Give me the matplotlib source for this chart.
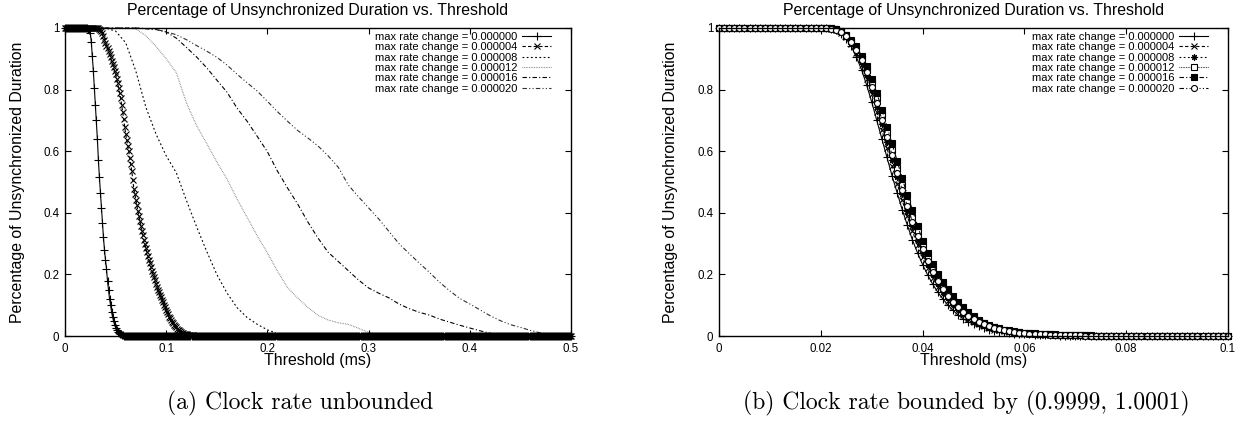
import numpy as np
import matplotlib
matplotlib.use("Agg")
import matplotlib.pyplot as plt

# ---------------------------------------------------------------- data
rate_labels = [
    "max rate change = 0.000000",
    "max rate change = 0.000004",
    "max rate change = 0.000008",
    "max rate change = 0.000012",
    "max rate change = 0.000016",
    "max rate change = 0.000020",
]

# Panel (a): clock rate unbounded.  Two series sampled every 0.001 ms,
# the other four every 0.01 ms.  Each list starts at the given threshold;
# before it the fraction is 1, after its end it is 0.
a_fine_step = 0.001
a_coarse_step = 0.01
a_x_max = 0.5

a_r00_start = 0.020
a_r00 = [1.0, 1.0, 0.999, 0.997, 0.993, 0.985, 0.954, 0.909, 0.861, 0.806,
         0.751, 0.700, 0.639, 0.572, 0.515, 0.465, 0.415, 0.367, 0.320, 0.280,
         0.247, 0.218, 0.178, 0.148, 0.121, 0.101, 0.078, 0.062, 0.048, 0.036,
         0.027, 0.020, 0.014, 0.010, 0.007, 0.005, 0.003, 0.002, 0.001, 0.0005]

a_r04_start = 0.033
a_r04 = [1.0, 0.998, 0.995, 0.990, 0.983, 0.973, 0.962, 0.952, 0.943, 0.934,
         0.925, 0.916, 0.905, 0.894, 0.883, 0.873, 0.862, 0.851, 0.836, 0.822,
         0.806, 0.789, 0.772, 0.751, 0.728, 0.704, 0.680, 0.656, 0.636, 0.618,
         0.600, 0.578, 0.558, 0.536, 0.506, 0.478, 0.462, 0.443, 0.425, 0.406,
         0.390, 0.373, 0.357, 0.341, 0.327, 0.312, 0.298, 0.285, 0.272, 0.259,
         0.248, 0.236, 0.224, 0.212, 0.201, 0.191, 0.181, 0.170, 0.160, 0.150,
         0.142, 0.134, 0.126, 0.118, 0.110, 0.102, 0.094, 0.086, 0.078, 0.070,
         0.063, 0.057, 0.051, 0.046, 0.041, 0.036, 0.032, 0.028, 0.024, 0.021,
         0.018, 0.015, 0.013, 0.011, 0.009, 0.008, 0.007, 0.006, 0.005, 0.004,
         0.003, 0.003, 0.002, 0.002, 0.001, 0.001, 0.001]

a_r08_start = 0.04
a_r08 = [1.0, 0.99, 0.952, 0.86, 0.742, 0.655, 0.585, 0.53, 0.44, 0.355,
         0.275, 0.20, 0.14, 0.092, 0.06, 0.038, 0.02, 0.008]

a_r12_start = 0.06
a_r12 = [1.0, 0.997, 0.975, 0.94, 0.90, 0.855, 0.757, 0.683, 0.625, 0.565,
         0.51, 0.445, 0.385, 0.325, 0.27, 0.21, 0.157, 0.123, 0.093, 0.067,
         0.052, 0.043, 0.038, 0.025, 0.012, 0.003]

a_r16_start = 0.07
a_r16 = [1.0, 0.998, 0.995, 0.987, 0.967, 0.937, 0.906, 0.871, 0.831, 0.792,
         0.74, 0.697, 0.648, 0.598, 0.535, 0.48, 0.428, 0.37, 0.318, 0.272,
         0.242, 0.212, 0.182, 0.156, 0.139, 0.124, 0.104, 0.089, 0.077, 0.068,
         0.055, 0.045, 0.035, 0.026, 0.017, 0.009, 0.003]

a_r20_start = 0.07
a_r20 = [1.0, 0.998, 0.995, 0.988, 0.978, 0.962, 0.943, 0.925, 0.905, 0.88,
         0.85, 0.822, 0.795, 0.762, 0.728, 0.697, 0.667, 0.643, 0.617, 0.585,
         0.548, 0.49, 0.452, 0.416, 0.38, 0.34, 0.30, 0.268, 0.237, 0.207,
         0.175, 0.147, 0.122, 0.104, 0.085, 0.066, 0.05, 0.037, 0.028, 0.018,
         0.01, 0.004, 0.001]

# Panel (b): clock rate bounded, all series sampled every 0.001 ms.
b_step = 0.001
b_x_max = 0.1
b_start = 0.020

b_r00 = [1.0, 0.999, 0.997, 0.992, 0.982, 0.965, 0.94, 0.905, 0.865, 0.815,
         0.76, 0.70, 0.64, 0.58, 0.52, 0.465, 0.41, 0.36, 0.312, 0.27,
         0.232, 0.198, 0.168, 0.142, 0.12, 0.10, 0.083, 0.068, 0.056, 0.046,
         0.038, 0.031, 0.025, 0.021, 0.017, 0.014, 0.012, 0.010, 0.008, 0.007,
         0.006, 0.005, 0.004, 0.003, 0.003, 0.002, 0.002, 0.001, 0.001, 0.001]

b_r04 = [1.0, 1.0, 0.998, 0.994, 0.985, 0.97, 0.948, 0.918, 0.88, 0.835,
         0.785, 0.728, 0.67, 0.61, 0.552, 0.495, 0.44, 0.388, 0.34, 0.295,
         0.255, 0.22, 0.188, 0.16, 0.136, 0.115, 0.097, 0.081, 0.067, 0.056,
         0.046, 0.038, 0.031, 0.026, 0.021, 0.018, 0.015, 0.012, 0.010, 0.009,
         0.007, 0.006, 0.005, 0.004, 0.004, 0.003, 0.003, 0.002, 0.002, 0.001,
         0.001, 0.001]

b_r08 = [1.0, 1.0, 0.998, 0.995, 0.987, 0.973, 0.952, 0.925, 0.89, 0.848,
         0.80, 0.745, 0.688, 0.63, 0.572, 0.515, 0.46, 0.406, 0.357, 0.31,
         0.268, 0.231, 0.198, 0.169, 0.144, 0.122, 0.103, 0.087, 0.073, 0.061,
         0.051, 0.042, 0.035, 0.029, 0.024, 0.020, 0.017, 0.014, 0.012, 0.010,
         0.009, 0.007, 0.006, 0.005, 0.005, 0.004, 0.003, 0.003, 0.002, 0.002,
         0.002, 0.001, 0.001, 0.001]

b_r12 = [1.0, 1.0, 0.999, 0.996, 0.989, 0.977, 0.958, 0.934, 0.903, 0.865,
         0.822, 0.773, 0.718, 0.66, 0.603, 0.545, 0.49, 0.436, 0.385, 0.337,
         0.293, 0.254, 0.219, 0.188, 0.161, 0.137, 0.117, 0.099, 0.084, 0.070,
         0.059, 0.049, 0.041, 0.034, 0.028, 0.024, 0.020, 0.017, 0.014, 0.012,
         0.010, 0.009, 0.008, 0.007, 0.006, 0.005, 0.004, 0.004, 0.003, 0.003,
         0.002, 0.002, 0.002, 0.001, 0.001, 0.001]

b_r16 = [1.0, 1.0, 0.999, 0.997, 0.99, 0.978, 0.96, 0.94, 0.91, 0.875,
         0.835, 0.79, 0.735, 0.68, 0.625, 0.568, 0.513, 0.457, 0.41, 0.358,
         0.31, 0.27, 0.235, 0.201, 0.176, 0.152, 0.131, 0.112, 0.094, 0.078,
         0.064, 0.052, 0.043, 0.036, 0.030, 0.025, 0.021, 0.018, 0.015, 0.013,
         0.011, 0.010, 0.009, 0.008, 0.007, 0.006, 0.005, 0.004, 0.004, 0.003,
         0.003, 0.002, 0.002, 0.002, 0.001, 0.001, 0.001, 0.001, 0.001, 0.001,
         0.001]

b_r20 = [1.0, 1.0, 0.998, 0.995, 0.988, 0.975, 0.955, 0.929, 0.896, 0.856,
         0.81, 0.758, 0.702, 0.645, 0.587, 0.53, 0.475, 0.421, 0.371, 0.324,
         0.281, 0.243, 0.209, 0.179, 0.153, 0.13, 0.11, 0.093, 0.078, 0.066,
         0.055, 0.046, 0.038, 0.032, 0.026, 0.022, 0.018, 0.015, 0.013, 0.011,
         0.009, 0.008, 0.007, 0.006, 0.005, 0.004, 0.004, 0.003, 0.003, 0.002,
         0.002, 0.002, 0.001, 0.001, 0.001]


def series(values, start, step, x_max):
    """Full curve on a regular grid: 1 before `start`, the listed values, then 0."""
    n = int(round(x_max / step)) + 1
    i0 = int(round(start / step))
    y = np.zeros(n)
    y[:i0] = 1.0
    y[i0:i0 + len(values)] = values
    x = np.arange(n) * step
    return x, y


# ---------------------------------------------------------------- style
plt.rcParams["font.family"] = ["Liberation Sans", "DejaVu Sans"]
plt.rcParams["axes.linewidth"] = 1.0

fig = plt.figure(figsize=(12.35, 4.44), dpi=100)
W, H = 1235.0, 444.0
AX_TOP, AX_BOT = 28.0, 336.0
AX_H = AX_BOT - AX_TOP
ax_a = fig.add_axes([65 / W, 1 - AX_BOT / H, 506 / W, AX_H / H])
ax_b = fig.add_axes([719 / W, 1 - AX_BOT / H, 509 / W, AX_H / H])

lw = 0.8
styles_a = [
    dict(ls="-", marker="+", ms=5.5, mew=0.8, color="black", zorder=4),
    dict(ls=(0, (3, 2)), marker="x", ms=4.2, mew=0.8, color="black", zorder=3),
    dict(ls=(0, (1.6, 2.2)), color="black"),
    dict(ls=(0, (0.6, 0.9)), color="#707070"),
    dict(ls=(0, (4, 2, 1, 2)), color="black"),
    dict(ls=(0, (4, 2, 1, 2, 1, 2)), color="#303030"),
]
styles_b = [
    dict(ls="-", marker="+", ms=5.5, mew=0.8, color="black"),
    dict(ls=(0, (3, 2)), marker="x", ms=4.2, mew=0.8, color="black"),
    dict(ls=(0, (1.6, 2.2)), marker=(8, 2, 0), ms=4.5, mew=0.8, color="black"),
    dict(ls=(0, (0.6, 0.9)), marker="s", ms=4.3, mew=0.8, mfc="white", color="black"),
    dict(ls=(0, (4, 2, 1, 2)), marker="s", ms=5.0, mew=0.8, color="black"),
    dict(ls=(0, (4, 2, 1, 2, 1, 2)), marker="o", ms=4.3, mew=0.8, mfc="white", color="black"),
]

curves_a = [
    series(a_r00, a_r00_start, a_fine_step, a_x_max),
    series(a_r04, a_r04_start, a_fine_step, a_x_max),
    series(a_r08, a_r08_start, a_coarse_step, a_x_max),
    series(a_r12, a_r12_start, a_coarse_step, a_x_max),
    series(a_r16, a_r16_start, a_coarse_step, a_x_max),
    series(a_r20, a_r20_start, a_coarse_step, a_x_max),
]
curves_b = [series(v, b_start, b_step, b_x_max)
            for v in (b_r00, b_r04, b_r08, b_r12, b_r16, b_r20)]

# draw the unmarked lines first so the dense markers sit on top
order_a = [2, 3, 4, 5, 1, 0]
for i in order_a:
    x, y = curves_a[i]
    ax_a.plot(x, y, lw=lw, clip_on=False, label=rate_labels[i], **styles_a[i])
for i, (x, y) in enumerate(curves_b):
    ax_b.plot(x, y, lw=lw, clip_on=False, label=rate_labels[i], **styles_b[i])

title = "Percentage of Unsynchronized Duration vs. Threshold"
for ax, xmax, xticks, xticklabels in (
    (ax_a, 0.5, [0, 0.1, 0.2, 0.3, 0.4, 0.5], ["0", "0.1", "0.2", "0.3", "0.4", "0.5"]),
    (ax_b, 0.1, [0, 0.02, 0.04, 0.06, 0.08, 0.1], ["0", "0.02", "0.04", "0.06", "0.08", "0.1"]),
):
    ax.set_xlim(0, xmax)
    ax.set_ylim(0, 1)
    ax.set_xticks(xticks)
    ax.set_xticklabels(xticklabels)
    ax.set_yticks([0, 0.2, 0.4, 0.6, 0.8, 1])
    ax.set_yticklabels(["0", "0.2", "0.4", "0.6", "0.8", "1"])
    ax.tick_params(direction="in", length=4.5, width=0.8, top=True, right=True,
                   labelsize=8.3, pad=5)
    ax.tick_params(axis="y", pad=4)
    ax.set_xlabel("Threshold (ms)", fontsize=11.4, va="center")
    ax.xaxis.set_label_coords(0.5, -24 / AX_H)
    ax.set_ylabel("Percentage of Unsynchronized Duration", fontsize=11.4, va="center")
    ax.text(0.5, (AX_BOT - 10) / AX_H, title, transform=ax.transAxes,
            ha="center", va="center", fontsize=11.4)

ax_a.yaxis.set_label_coords((18 - 65) / 506, 0.5)
ax_b.yaxis.set_label_coords((670 - 719) / 509, 0.5)

# legends: label text on the left, line sample on the right
for ax, width in ((ax_a, 506), (ax_b, 509)):
    handles, labels = ax.get_legend_handles_labels()
    pairs = sorted(zip(labels, handles), key=lambda p: p[0])
    ax.legend([h for _, h in pairs], [l for l, _ in pairs],
              loc="upper right",
              bbox_to_anchor=(1 - 20 / width, (AX_BOT - 32) / AX_H),
              frameon=False, fontsize=8, markerfirst=False, numpoints=1,
              handlelength=2.6, handletextpad=0.45, labelspacing=0.03,
              borderpad=0, borderaxespad=0)

# sub-figure captions
fig.text(300 / W, 1 - 403 / H, "(a) Clock rate unbounded",
         family="cmr10", fontsize=17, ha="center", va="center")
fig.text(966 / W, 1 - 403 / H, "(b) Clock rate bounded by (0.9999, 1.0001)",
         family="cmr10", fontsize=17, ha="center", va="center")

fig.savefig("out.png", dpi=100)
